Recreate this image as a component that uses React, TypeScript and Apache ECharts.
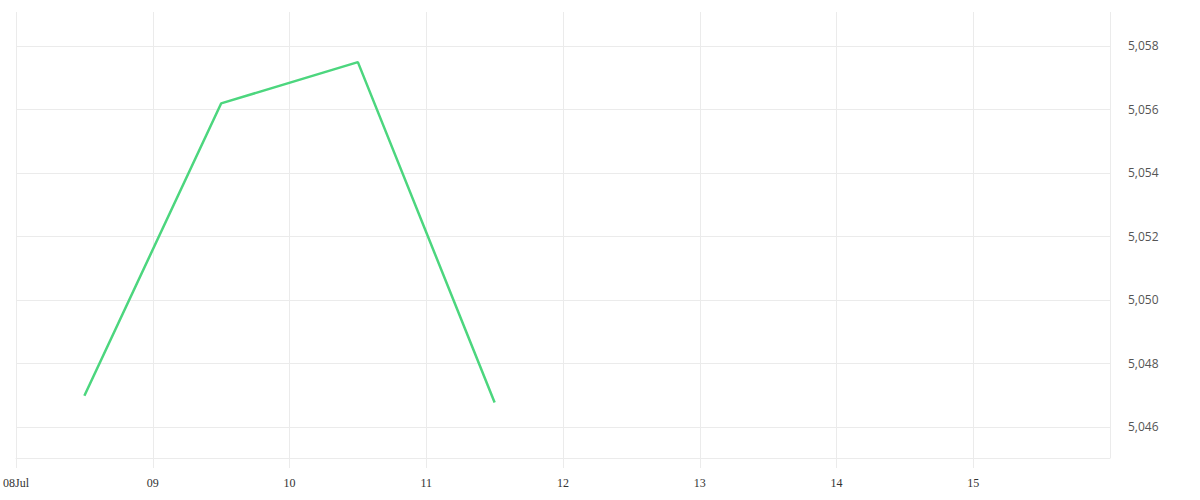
import React, { useEffect, useRef } from 'react';
import * as echarts from 'echarts';

// noon readings, one per day
const dates = ['2024-07-08 12:00', '2024-07-09 12:00', '2024-07-10 12:00', '2024-07-11 12:00'];
const values = [5046.98, 5056.19, 5057.49, 5046.77];

const xStart = '2024-07-08 00:00';
const xEnd = '2024-07-16 00:00';
const firstLabel = '08Jul';

const yMin = 5045.02;
const yMax = 5059.07;

const DAY = 86400000;
const toMs = (s: string) => {
    const [d, t] = s.split(' ');
    const [y, m, dd] = d.split('-').map(Number);
    const [hh, mm] = t.split(':').map(Number);
    return Date.UTC(y, m - 1, dd, hh, mm);
};

const App = () => {
    const chartRef = useRef<HTMLDivElement>(null);

    useEffect(() => {
        document.body.style.margin = '0';
        if (!chartRef.current) return;
        const myChart = echarts.init(chartRef.current, null, { renderer: 'svg' });
        const min = toMs(xStart);
        const option = {
            animation: false,
            grid: { left: 15, right: 90, top: 12, bottom: 42 },
            xAxis: {
                type: 'value',
                min,
                max: toMs(xEnd),
                interval: DAY,
                axisLine: { lineStyle: { color: '#ebebeb' } },
                axisTick: { length: 10, lineStyle: { color: '#ebebeb' } },
                splitLine: { show: true, lineStyle: { color: '#ebebeb' } },
                axisLabel: {
                    fontFamily: 'Liberation Serif',
                    fontSize: 12,
                    color: '#333',
                    margin: 19,
                    showMaxLabel: false,
                    formatter: (v: number) => {
                        if (v === min) return firstLabel;
                        return String(new Date(v).getUTCDate()).padStart(2, '0');
                    }
                }
            },
            yAxis: {
                type: 'value',
                position: 'right',
                min: yMin,
                max: yMax,
                splitNumber: 7,
                minInterval: 2,
                maxInterval: 2,
                axisLine: { show: false },
                axisTick: { show: false },
                splitLine: { show: true, showMinLine: false, showMaxLine: false, lineStyle: { color: '#ebebeb' } },
                axisLabel: {
                    fontFamily: 'Open Sans',
                    fontSize: 12,
                    color: '#555',
                    margin: 18,
                    showMinLabel: false,
                    showMaxLabel: false,
                    formatter: (v: number) => (Math.abs(v % 2) < 1e-6 ? v.toLocaleString('en-US') : '')
                }
            },
            series: [{
                type: 'line',
                data: dates.map((d, i) => [toMs(d), values[i]]),
                showSymbol: false,
                lineStyle: { color: '#4cd67e', width: 2.5 },
                itemStyle: { color: '#4cd67e' }
            }]
        };
        myChart.setOption(option);

        return () => {
            myChart.dispose();
        };
    }, []);

    return <div ref={chartRef} style={{ width: '1200px', height: '500px' }} />;
};

export default App;
